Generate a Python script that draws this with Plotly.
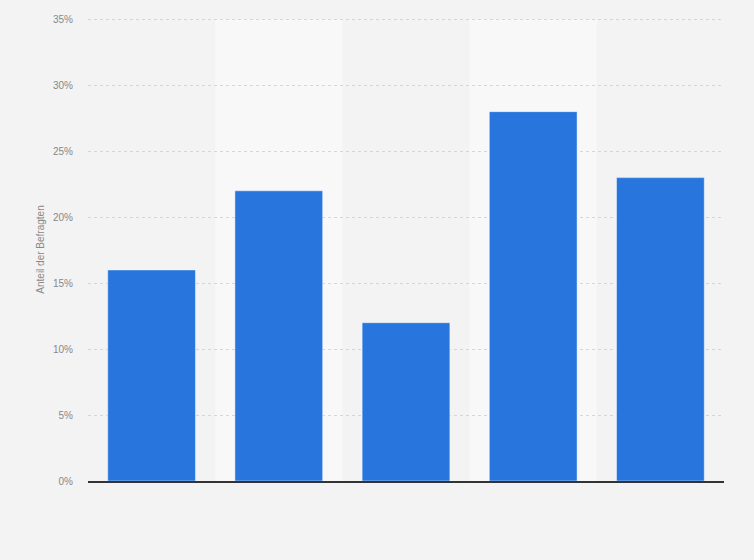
import plotly.graph_objects as go

# -----------------------------
# Data
# -----------------------------
categories = ["A", "B", "C", "D", "E"]
shares = [16, 22, 12, 28, 23]
y_ticks = [0, 5, 10, 15, 20, 25, 30, 35]

BAR_COLOR = "#2876dd"
BG = "#f3f3f3"
BAND = "#f8f8f8"

fig = go.Figure()

fig.add_trace(go.Bar(
    x=categories,
    y=shares,
    marker=dict(color=BAR_COLOR, line=dict(color="rgba(255,255,255,0.45)", width=1)),
    width=0.69,
    hoverinfo="y",
))

# alternating lighter column bands
for i in range(1, len(categories), 2):
    fig.add_shape(
        type="rect", xref="x", yref="y",
        x0=i - 0.5, x1=i + 0.5, y0=0, y1=max(y_ticks),
        fillcolor=BAND, line_width=0, layer="below",
    )

fig.update_layout(
    width=754,
    height=560,
    margin=dict(l=88, r=30, t=18, b=79),
    paper_bgcolor=BG,
    plot_bgcolor=BG,
    font=dict(family="Liberation Sans, Arial, sans-serif", size=10, color="#888888"),
    showlegend=False,
    xaxis=dict(
        showticklabels=False,
        showgrid=False,
        showline=True,
        linecolor="#333333",
        linewidth=1.5,
        zeroline=False,
        fixedrange=True,
    ),
    yaxis=dict(
        range=[0, 35.1],
        tickvals=y_ticks,
        ticktext=[f"{v}%" for v in y_ticks],
        showgrid=True,
        gridcolor="#d6d6d6",
        griddash="dot",
        gridwidth=1,
        zeroline=False,
        ticklabelstandoff=14,
        title=dict(text="Anteil der Befragten", standoff=6,
                   font=dict(size=10, color="#888888")),
    ),
)

# drop the default page margin so the figure sits at the window edge
fig.write_html("out.html", config={"displayModeBar": False},
               post_script="document.body.style.margin='0';")
